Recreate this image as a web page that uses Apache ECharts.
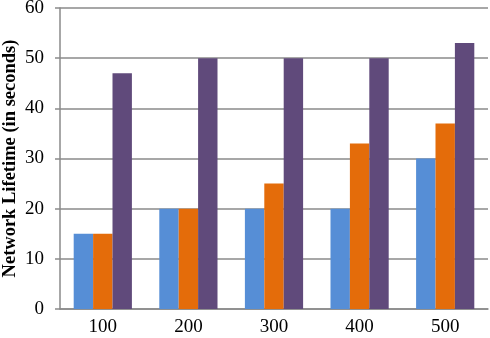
<!DOCTYPE html>
<html>
<head>
<meta charset="utf-8">
<script src="https://cdn.jsdelivr.net/npm/echarts@6/dist/echarts.min.js"></script>
<style>
  html, body { margin: 0; padding: 0; background: #fff; }
  #chart { width: 490px; height: 338px; }
</style>
</head>
<body>
<div id="chart"></div>
<script>
// categories and values
const categories = ['100', '200', '300', '400', '500'];
const seriesA = [15, 20, 20, 20, 30];
const seriesB = [15, 20, 25, 33, 37];
const seriesC = [47, 50, 50, 50, 53];
const yTicks = [0, 10, 20, 30, 40, 50, 60];

const chart = echarts.init(document.getElementById('chart'));

const font = 'Liberation Serif';

function barSeries(name, data, color) {
  return {
    name,
    type: 'bar',
    data,
    barGap: '0%',
    barCategoryGap: '32%',
    itemStyle: { color },
    animation: false
  };
}

const option = {
  animation: false,
  grid: { left: 60, right: 2, top: 8, bottom: 29, containLabel: false, outerBoundsMode: 'none' },
  xAxis: {
    type: 'category',
    data: categories,
    axisLine: { show: true, lineStyle: { color: '#8a8a8a', width: 1.5 } },
    axisTick: { show: false },
    axisLabel: { color: '#000', fontFamily: font, fontSize: 19, margin: 9 }
  },
  yAxis: {
    type: 'value',
    min: yTicks[0],
    max: yTicks[yTicks.length - 1],
    interval: 10,
    name: 'Network Lifetime (in seconds)',
    nameLocation: 'middle',
    nameGap: 40,
    nameMoveOverlap: false,
    nameTextStyle: { color: '#000', fontFamily: font, fontSize: 18.5, fontWeight: 'bold' },
    axisLine: { show: true, lineStyle: { color: '#8a8a8a', width: 1.5 } },
    axisTick: { show: true, length: 5, lineStyle: { color: '#8a8a8a', width: 1.5 } },
    axisLabel: { color: '#000', fontFamily: font, fontSize: 19, margin: 16 },
    splitLine: { lineStyle: { color: '#8a8a8a', width: 1.5 } }
  },
  series: [
    barSeries('A', seriesA, '#568ed6'),
    barSeries('B', seriesB, '#e46c0a'),
    barSeries('C', seriesC, '#604a7b')
  ]
};

chart.setOption(option);
</script>
</body>
</html>
